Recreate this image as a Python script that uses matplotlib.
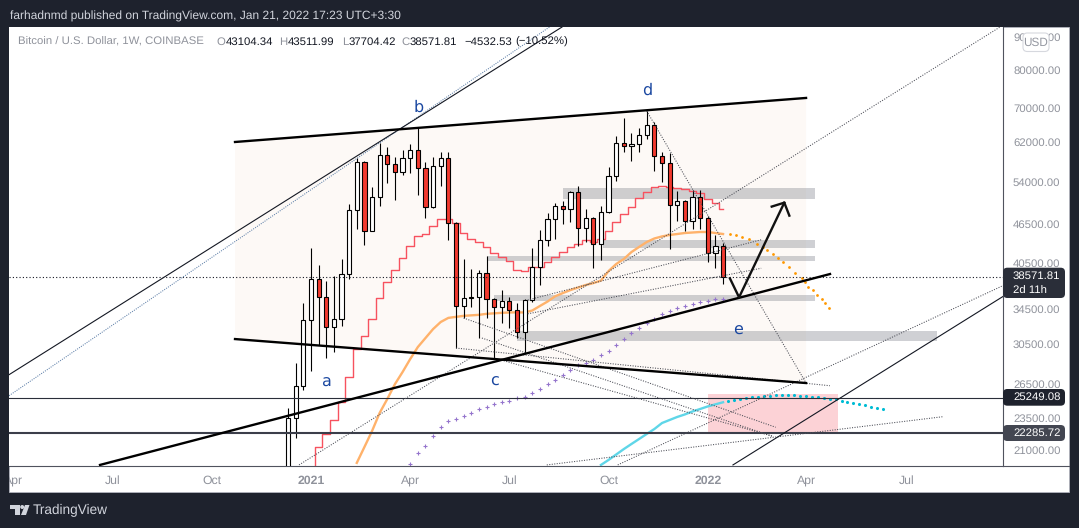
import numpy as np
import matplotlib
matplotlib.use("Agg")
import matplotlib.pyplot as plt
from matplotlib.lines import Line2D
from matplotlib.patches import Rectangle, FancyBboxPatch, Polygon, Ellipse
from matplotlib.ticker import NullLocator
from matplotlib.transforms import Bbox

plt.rcParams["font.family"] = "Liberation Sans"
plt.rcParams["text.hinting"] = "none"

W, H = 1079, 528
BG = "#1e222d"

# weekly candles, bar 0 = first week of 2021
bar_first = -3
opens = [19300, 23500, 26300, 33170, 38360, 35950, 32360, 33290, 39000, 48860, 57850, 45380, 51140, 59290,
         57460, 55860, 58680, 60350, 56650, 49380, 57050, 58680, 46680, 34850, 35840, 35950, 39160, 35720,
         34720, 35450, 34360, 31800, 35590, 39950, 43960, 47340, 49550, 49030, 52060, 45860, 47500, 43350,
         48520, 55100, 61880, 61200, 61650, 63620, 65900, 59070, 57650, 49730, 50430, 47000, 51140, 47500,
         41980, 43104.34]
highs = [24370, 28500, 35220, 42680, 40250, 38050, 38720, 41100, 49900, 58680, 58000, 52990, 61900, 60990,
         58880, 60350, 61650, 65220, 57850, 58880, 59900, 59900, 46900, 41120, 39700, 39550, 41560, 35840,
         36860, 35950, 35220, 35700, 42740, 45540, 48350, 50090, 50430, 52240, 53170, 49030, 47700, 49550,
         56850, 63400, 67550, 64090, 65220, 69230, 66600, 59900, 59690, 52240, 50600, 52430, 52430, 47830,
         44740, 43511.99]
lows = [18000, 21870, 25920, 27750, 30370, 29010, 29600, 32500, 38350, 45680, 43200, 45300, 49550, 53740,
        50610, 55270, 55660, 51520, 47500, 49200, 53180, 43960, 30050, 33400, 34750, 31130, 33400, 29010,
        32810, 32250, 31130, 29530, 35300, 37500, 43040, 44120, 46500, 46830, 43040, 43650, 39830, 40970,
        48400, 54120, 59900, 58070, 59900, 62760, 56050, 53930, 42590, 47000, 45380, 45700, 45700, 40680,
        39830, 37704.42]
closes = [23500, 26300, 33170, 38360, 35950, 32360, 33290, 39000, 48860, 57850, 45380, 51140, 59290, 57460,
          55860, 58680, 60350, 56650, 49380, 57050, 58680, 46680, 34850, 35840, 35950, 39160, 35720, 34720,
          35450, 34360, 31800, 35590, 39950, 43960, 47340, 49550, 49030, 52060, 45860, 47500, 43350, 48520,
          55100, 61880, 61200, 61650, 63620, 65900, 59070, 57650, 49730, 50430, 47000, 51140, 47500, 41980,
          43104.34, 38571.81]

# stepped red average
red_first = 0
red_line = [19500, 21210, 22230, 23330, 24850, 27140, 29940, 31400, 33310, 35830, 37910, 39550, 41300, 43100,
            44640, 44900, 46230, 47290, 47290, 46680, 45060, 44120, 43700, 42930, 41980, 41440, 40830, 39550,
            39450, 40020, 40020, 40680, 41440, 42190, 42930, 43340, 43960, 43650, 44120, 45430, 46830, 48180,
            49450, 50970, 52110, 53000, 53250, 53060, 52800, 52620, 52250, 51880, 50790, 50090, 49030]

# orange average and its projection
orange_first = 6
orange_line = [20060, 21210, 22440, 23920, 25120, 26470, 27620, 28910, 30160, 31130, 32130, 32940, 33420, 33540,
               33660, 33720, 33780, 33900, 33960, 34020, 34060, 34080, 34060, 34300, 34850, 35400, 36060, 36470,
               36860, 37190, 37520, 37780, 38110, 39410, 40400, 41120, 42140, 42900, 43650, 44200, 44520, 44750,
               44900, 45060, 45140, 45220, 45220, 45060, 44900]
orange_proj_x = [54.9, 55.7, 56.5, 57.4, 58.5, 59.2, 59.8, 60.5, 61.2, 61.9, 62.6, 63.4, 64.3, 64.7, 65.1, 65.8,
                 66.3, 67.0, 67.4, 67.9]
orange_proj = [44900, 44740, 44480, 44120, 43350, 42900, 42440, 41860, 41260, 40680, 40010, 39170, 38450, 37950,
               37290, 36860, 36220, 35720, 35220, 34600]

# purple average
purple_first = 13
purple_line = [19980, 20760, 21290, 22030, 22740, 23250, 23390, 23650, 23910, 24230, 24400, 24660, 24850, 24940,
               25170, 25320, 25620, 26000, 26470, 26850, 27310, 27820, 28310, 28560, 28810, 29290, 29700, 30330,
               31010, 31670, 32250, 32820, 33320, 33900, 34240, 34600, 34850, 35100, 35350, 35500, 35680, 35720]

# cyan average and its projection
cyan_first = 38
cyan_line = [19915, 20270, 20660, 21060, 21440, 21820, 22210, 22600, 23080, 23330, 23580, 23790, 24040, 24250,
             24470, 24650, 24830]
cyan_proj_x = [54.65, 55.4, 56.2, 57.0, 57.8, 58.6, 59.4, 60.2, 60.9, 61.7, 62.5, 63.3, 64.1, 64.9, 65.7, 66.4,
               67.2, 68.0, 68.8, 69.6, 70.2, 71.0, 71.8, 72.6, 73.4, 74.2, 75.0]
cyan_proj = [24940, 25030, 25140, 25200, 25290, 25320, 25380, 25410, 25440, 25440, 25440, 25440, 25380, 25380,
             25320, 25270, 25200, 25140, 25120, 24970, 24850, 24790, 24680, 24570, 24420, 24310, 24230]

# drawings: (x0, price0, x1, price1)
wedge_top = (-9.96, 62080, 64.88, 72490)
wedge_bottom = (-9.96, 31020, 64.88, 26570)
bold_up = (-27.65, 19915, 68.02, 39000)
thin_lines = [(-39.58, 27360, 32.9, 93060), (55.3, 19915, 90.73, 36060)]
blue_dotted = (-39.58, 25410, 31.26, 93060)
dotted_lines = [(-1.57, 19915, 90.3, 93060),
                (40.2, 19915, 90.73, 37460),
                (30.9, 19915, 82.8, 23600),
                (19.0, 30050, 68.0, 26320),
                (20.0, 33400, 60.9, 22740),
                (22.4, 31130, 60.6, 22000),
                (24.0, 29010, 60.6, 22020),
                (28.4, 35590, 59.0, 44000),
                (28.4, 33900, 59.0, 39800),
                (44.0, 69230, 64.88, 26570)]
arrow_x = [54.9, 56.1, 62.03]
arrow_p = [38410, 35930, 50140]
arrow_head_x = [60.38, 62.03, 62.69]
arrow_head_p = [49450, 50140, 47900]

# grey zones: x0, x1, price low, price high
zones = [(33.0, 66.05, 50790, 52800),
         (38.3, 66.05, 42790, 43960),
         (23.1, 66.05, 40870, 41560),
         (24.0, 66.05, 35500, 36220),
         (27.0, 82.0, 30840, 31900)]
pink_zone = (52.0, 69.1, 22200, 25540)

wave_labels = ["a", "b", "c", "d", "e"]
wave_x = [1.97, 14.1, 24.0, 44.0, 56.0]
wave_p = [26650, 70230, 26750, 74550, 32020]

level_upper = 25249.08
level_lower = 22285.72
last_close = 38571.81

price_ticks = [90000, 80000, 70000, 62000, 54000, 46500, 40500, 34500, 30500, 26500, 23500, 21000]
week_ticks = [-39, -26, -13, 0, 13, 26, 39, 52, 65, 78]
week_labels = ["Apr", "Jul", "Oct", "2021", "Apr", "Jul", "Oct", "2022", "Apr", "Jul"]


def fx(x):
    return x / W


def fy(y):
    return 1 - y / H


def draw_seg(ax, seg, **kw):
    ax.plot([seg[0], seg[2]], [seg[1], seg[3]], **kw)


fig = plt.figure(figsize=(W / 100, H / 100), dpi=100, facecolor=BG)

# white panel behind chart and scales
fig.add_artist(Rectangle((fx(9), fy(492)), fx(1060), 465 / H, transform=fig.transFigure,
                         facecolor="white", edgecolor="#b2b5be", lw=0.6, zorder=-5))

ax = fig.add_axes([fx(9), fy(465.5), fx(994.3), 438.5 / H])
ax.set_facecolor("white")
ax.set_yscale("log")
ax.set_xlim(-39.58, 90.73)
ax.set_ylim(19875, 93060)
for s in ["left", "top"]:
    ax.spines[s].set_visible(False)
for s in ["right", "bottom"]:
    ax.spines[s].set_color("#50535e")
    ax.spines[s].set_linewidth(0.8)

ax.yaxis.tick_right()
ax.yaxis.set_minor_locator(NullLocator())
ax.xaxis.set_minor_locator(NullLocator())
ax.set_yticks(price_ticks)
ax.set_yticklabels(["%.2f" % p for p in price_ticks], fontsize=8.2, color="#8f929b")
ax.set_xticks(week_ticks)
ax.set_xticklabels(week_labels, fontsize=8.8, color="#8f929b")
ax.tick_params(axis="y", length=0, pad=7)
ax.tick_params(axis="x", length=0, pad=7)
for lab in ax.get_xticklabels():
    if lab.get_text().startswith("20"):
        lab.set_fontweight("bold")
    lab.set_clip_on(True)
    lab.set_clip_box(Bbox.from_extents(9, 0, 1003, H))

# wedge shading
ax.add_patch(Polygon([(wedge_top[0], wedge_top[1]), (wedge_top[2], wedge_top[3]),
                      (wedge_bottom[2], wedge_bottom[3]), (wedge_bottom[0], wedge_bottom[1])],
                     facecolor="#fdf9f6", edgecolor="none", zorder=0.5))

for z in zones:
    ax.add_patch(Rectangle((z[0], z[2]), z[1] - z[0], z[3] - z[2], facecolor="#787b86", alpha=0.35, lw=0, zorder=1))
ax.add_patch(Rectangle((pink_zone[0], pink_zone[2]), pink_zone[1] - pink_zone[0], pink_zone[3] - pink_zone[2],
                       facecolor="#f23645", alpha=0.22, lw=0, zorder=1))

# indicators
red_x = np.arange(len(red_line)) + red_first
ax.step(red_x, red_line, where="mid", color="#f7525f", lw=1, zorder=2)
ax.plot(np.arange(len(orange_line)) + orange_first, orange_line, color="#ffb26b", lw=1.7, zorder=2)
ax.plot(np.arange(len(cyan_line)) + cyan_first, cyan_line, color="#5fd6e8", lw=1.7, zorder=2)
ax.scatter(orange_proj_x, orange_proj, s=4, color="#ff9800", marker="o", lw=0, zorder=2)
ax.scatter(cyan_proj_x, cyan_proj, s=5, color="#00bcd4", marker="o", lw=0, zorder=2)
ax.scatter(np.arange(len(purple_line)) + purple_first, purple_line, s=8, color="#9575cd", marker="+", lw=0.8, zorder=2)

# candles
bar_x = np.arange(len(opens)) + bar_first
ax.vlines(bar_x, lows, highs, color="black", lw=0.8, zorder=3)
body_low = np.minimum(opens, closes)
body_high = np.maximum(opens, closes)
body_col = ["white" if c >= o else "#f23a2f" for o, c in zip(opens, closes)]
ax.bar(bar_x, body_high - body_low, bottom=body_low, width=0.55, color=body_col, edgecolor="black", lw=0.8, zorder=3.2)

# horizontal levels
ax.axhline(level_upper, color="#2a2e39", lw=0.8, zorder=3.5)
ax.axhline(level_lower, color="#3b3e4a", lw=1.5, zorder=3.5)
ax.axhline(last_close, color="#131722", lw=0.8, ls=(0, (1, 2)), zorder=3.5)

# trend lines
for seg in dotted_lines:
    draw_seg(ax, seg, color="#4a4c55", lw=0.75, ls=(0, (1, 1.4)), zorder=4)
draw_seg(ax, blue_dotted, color="#5d7fa8", lw=0.75, ls=(0, (1, 1.2)), zorder=4)
for seg in thin_lines:
    draw_seg(ax, seg, color="#131722", lw=0.8, zorder=4)
for seg in [wedge_top, wedge_bottom, bold_up]:
    draw_seg(ax, seg, color="black", lw=1.7, zorder=4.5)
ax.plot(arrow_x, arrow_p, color="#111111", lw=1.7, zorder=4.5)
ax.plot(arrow_head_x, arrow_head_p, color="#111111", lw=1.7, zorder=4.5)

for t, x, p in zip(wave_labels, wave_x, wave_p):
    ax.text(x, p, t, color="#1a47a0", fontsize=11.5, family="DejaVu Sans", ha="center", va="center", zorder=5)

# scale separator below the axes runs to the panel edge
fig.add_artist(Line2D([fx(1003), fx(1069)], [fy(465.5), fy(465.5)], color="#50535e", lw=0.8))


def price_box(y0, y1, color, lines):
    fig.add_artist(FancyBboxPatch((fx(1003), fy(y1)), fx(62), (y1 - y0) / H, transform=fig.transFigure,
                                  boxstyle="round,pad=0,rounding_size=0.004", mutation_aspect=2,
                                  facecolor=color, edgecolor="none", zorder=6))
    for txt, y in lines:
        fig.text(fx(1013), fy(y), txt, color="white", fontsize=8.2, va="center", zorder=7)


price_box(267.7, 298, "#2a2e39", [("%.2f" % last_close, 276.5), ("2d 11h", 291)])
price_box(389, 405.7, BG, [("%.2f" % level_upper, 397.5)])
price_box(425, 441, "#434651", [("%.2f" % level_lower, 433)])

# currency badge
fig.add_artist(FancyBboxPatch((fx(1023), fy(51.5)), fx(26), 18.5 / H, transform=fig.transFigure,
                              boxstyle="round,pad=0,rounding_size=0.004", mutation_aspect=2,
                              facecolor="white", edgecolor="#d6d8de", lw=0.8, zorder=6))
fig.text(fx(1036), fy(42.5), "USD", color="#9598a1", fontsize=8.5, ha="center", va="center", zorder=7)

# header
fig.text(fx(10), fy(16), "farhadnmd published on TradingView.com, Jan 21, 2022 17:23 UTC+3:30",
         color="#d1d4dc", fontsize=8.65, va="center")

# legend row
legend_grey = [("Bitcoin / U.S. Dollar, 1W, COINBASE", 18), ("O", 216), ("H", 279), ("L", 342), ("C", 401)]
legend_black = [("43104.34", 226), ("43511.99", 288), ("37704.42", 349), ("38571.81", 410), ("\u22124532.53", 464),
                ("(\u221210.52%)", 515)]
for t, x in legend_grey:
    fig.text(fx(x), fy(42), t, color="#8f929b", fontsize=8.2, va="center", zorder=7)
for t, x in legend_black:
    fig.text(fx(x), fy(42), t, color="#131722", fontsize=8.2, va="center", zorder=7)

# footer logo and name
logo = [Polygon([(fx(10), fy(505)), (fx(20), fy(505)), (fx(20), fy(515)), (fx(15), fy(515)), (fx(15), fy(509)),
                 (fx(10), fy(509))], closed=True),
        Polygon([(fx(21), fy(515)), (fx(26), fy(515)), (fx(29.5), fy(505)), (fx(25), fy(505))], closed=True),
        Ellipse((fx(22.2), fy(507)), 4 / W, 4 / H)]
for p in logo:
    p.set_transform(fig.transFigure)
    p.set_facecolor("#d1d4dc")
    p.set_edgecolor("none")
    fig.add_artist(p)
fig.text(fx(33), fy(510.5), "TradingView", color="#d1d4dc", fontsize=9.8, va="center")

fig.savefig("out.png", dpi=100, facecolor=BG)
